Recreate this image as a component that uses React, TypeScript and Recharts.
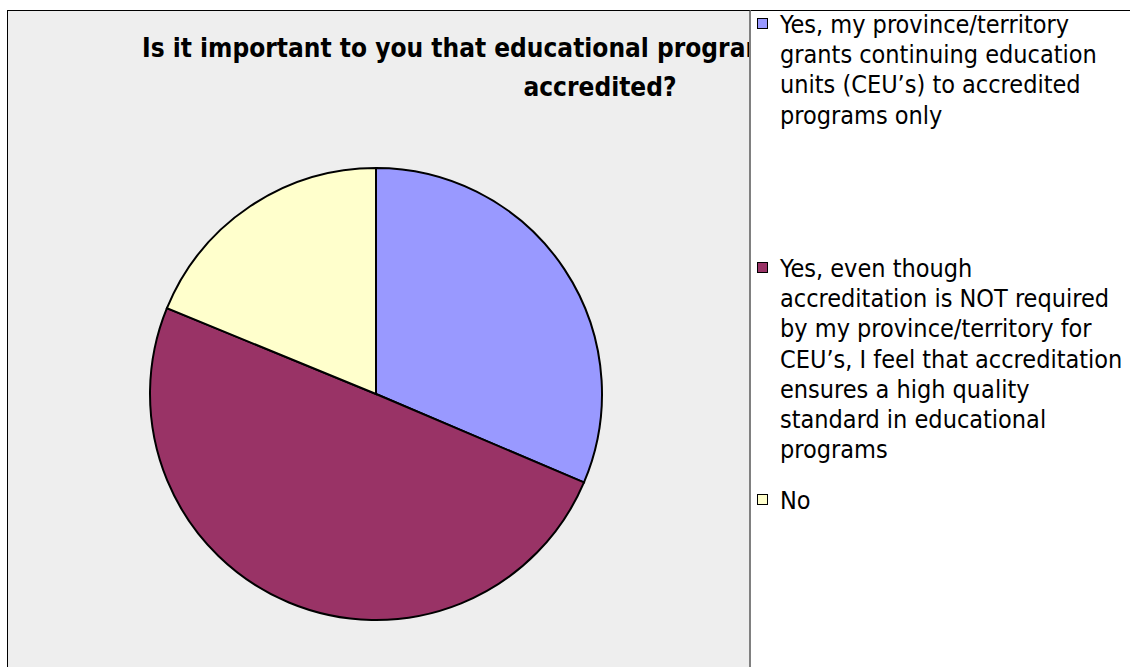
import { PieChart, Pie, Cell, Legend } from 'recharts'

const categories = [
  'Yes, my province/territory grants continuing education units (CEU’s) to accredited programs only',
  'Yes, even though accreditation is NOT required by my province/territory for CEU’s, I feel that accreditation ensures a high quality standard in educational programs',
  'No',
]
const legendLines = [
  ['Yes, my province/territory', 'grants continuing education', 'units (CEU’s) to accredited', 'programs only'],
  [
    'Yes, even though',
    'accreditation is NOT required',
    'by my province/territory for',
    'CEU’s, I feel that accreditation',
    'ensures a high quality',
    'standard in educational',
    'programs',
  ],
  ['No'],
]
const shares = [31.4, 49.8, 18.8]
const colors = ['#9999FF', '#993366', '#FFFFCC']
const titleLines = ['Is it important to you that educational programs are', 'accredited?']

const FONT = "'DejaVu Sans Condensed', 'DejaVu Sans', Tahoma, sans-serif"

// vertical slot of each legend entry, relative to the legend box
const itemTops = [0, 244, 476]

function LegendBox() {
  return (
    <div style={{ position: 'relative', width: 381, height: 657, fontFamily: FONT, color: '#000' }}>
      {categories.map((name, i) => (
        <div key={name} style={{ position: 'absolute', left: 0, top: itemTops[i], width: 381 }}>
          <div
            style={{
              position: 'absolute', left: 8, top: 8, width: 9, height: 9,
              background: colors[i], border: '1.5px solid #000',
            }}
          />
          <div style={{ position: 'absolute', left: 31, top: 0, fontSize: 25, lineHeight: '30.2px', whiteSpace: 'nowrap' }}>
            {legendLines[i].map((l) => <div key={l}>{l}</div>)}
          </div>
        </div>
      ))}
    </div>
  )
}

export default function App() {
  const data = categories.map((name, i) => ({ name, value: shares[i] }))
  return (
    <div style={{ position: 'absolute', left: 0, top: 0, width: 1130, height: 667, background: '#fff', overflow: 'hidden' }}>
      <div style={{ position: 'absolute', left: 7, top: 10, width: 1123, height: 1, background: '#000' }} />
      <div
        style={{
          position: 'absolute', left: 7, top: 10, width: 744, height: 657, boxSizing: 'border-box',
          background: '#EEEEEE', borderLeft: '1px solid #000', borderTop: '1px solid #000',
          borderRight: '2px solid #808080', overflow: 'hidden',
        }}
      >
        {/* the title runs under the legend and is cut off there, as in the original */}
        <div
          style={{
            position: 'absolute', left: 134, top: 17, fontFamily: FONT, fontWeight: 'bold',
            fontSize: 26, whiteSpace: 'nowrap', color: '#000', lineHeight: '40px',
          }}
        >
          {titleLines[0]}
        </div>
        <div
          style={{
            position: 'absolute', left: 392, width: 400, top: 56, textAlign: 'center', fontFamily: FONT,
            fontWeight: 'bold', fontSize: 26, whiteSpace: 'nowrap', color: '#000', lineHeight: '40px',
          }}
        >
          {titleLines[1]}
        </div>
      </div>
      <div style={{ position: 'absolute', left: 0, top: 0 }}>
        <PieChart width={1130} height={667}>
          <Pie
            data={data}
            dataKey="value"
            nameKey="name"
            cx={371}
            cy={389}
            outerRadius={226}
            startAngle={90}
            endAngle={-270}
            stroke="#000"
            strokeWidth={2}
            isAnimationActive={false}
          >
            {data.map((d, i) => (
              <Cell key={d.name} fill={colors[i]} />
            ))}
          </Pie>
          <Legend
            content={() => <LegendBox />}
            wrapperStyle={{ position: 'absolute', left: 749, top: 10, width: 381, height: 657 }}
          />
        </PieChart>
      </div>
    </div>
  )
}
